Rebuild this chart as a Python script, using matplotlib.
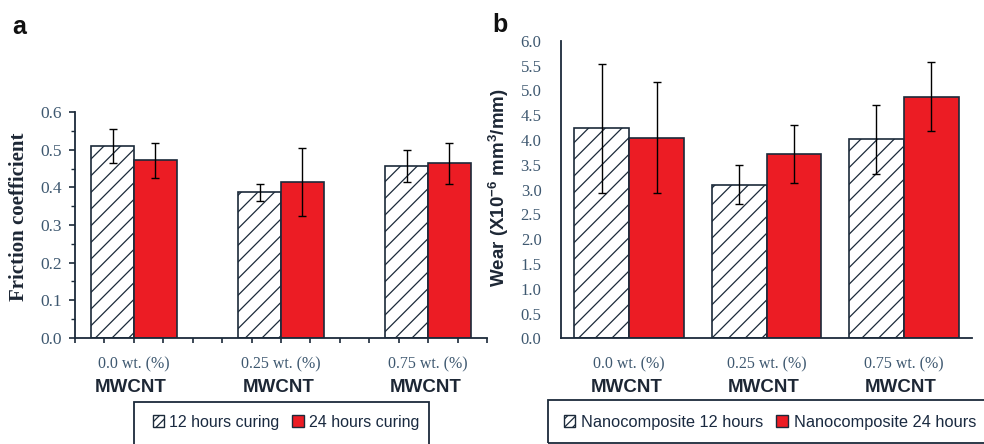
import matplotlib
matplotlib.use("Agg")
import matplotlib.pyplot as plt
from matplotlib import font_manager
from matplotlib.patches import Rectangle, Patch
from matplotlib.ticker import MultipleLocator
import numpy as np

# data
groups = ["0.0 wt. (%)", "0.25 wt. (%)", "0.75 wt. (%)"]
group_sub = "MWCNT"

fric_12h = [0.510, 0.387, 0.457]
fric_12h_err = [0.046, 0.022, 0.042]
fric_24h = [0.472, 0.415, 0.464]
fric_24h_err = [0.047, 0.091, 0.055]

wear_12h = [4.23, 3.10, 4.01]
wear_12h_err = [1.30, 0.40, 0.70]
wear_24h = [4.04, 3.72, 4.87]
wear_24h_err = [1.12, 0.58, 0.70]

left_legend = ["12 hours curing", "24 hours curing"]
right_legend = ["Nanocomposite 12 hours", "Nanocomposite 24 hours"]

# fonts
names = {f.name for f in font_manager.fontManager.ttflist}
narrow = "Liberation Sans Narrow" if "Liberation Sans Narrow" in names else "Liberation Sans"
serif = "Liberation Serif"

RED = "#ec1c24"
EDGE = "#1b2a3a"
TICKC = "#3e5870"
DARK = "#1d2735"

plt.rcParams["hatch.linewidth"] = 0.9
plt.rcParams["mathtext.fontset"] = "custom"
plt.rcParams["mathtext.rm"] = narrow
plt.rcParams["mathtext.bf"] = narrow + ":bold"

fig = plt.figure(figsize=(9.84, 4.44), dpi=100)
W, H = 984, 444


def px_axes(x0, x1, ytop, ybot):
    return fig.add_axes([x0 / W, 1 - ybot / H, (x1 - x0) / W, (ybot - ytop) / H])


def style_axes(ax, size):
    for s in ["top", "right"]:
        ax.spines[s].set_visible(False)
    for s in ["left", "bottom"]:
        ax.spines[s].set_color(EDGE)
        ax.spines[s].set_linewidth(1.3)
    for lab in ax.get_yticklabels():
        lab.set_fontfamily(serif)
        lab.set_fontsize(size)
        lab.set_color(TICKC)


def category_labels(ax, xs):
    for x, g in zip(xs, groups):
        ax.annotate(g, (x, 0), xycoords=("data", "axes fraction"),
                    xytext=(0, -19), textcoords="offset points",
                    ha="center", va="center", fontsize=11.5,
                    family=serif, color=TICKC)
        ax.annotate(group_sub, (x, 0), xycoords=("data", "axes fraction"),
                    xytext=(-2, -35.5), textcoords="offset points",
                    ha="center", va="center", fontsize=13.5,
                    family=narrow, weight="bold", color=DARK)


err_kw = dict(ecolor="black", elinewidth=1.0, capsize=3, capthick=1.0)

# ---------- panel a ----------
ax1 = px_axes(75, 487, 112.3, 337.7)
bnd1 = np.array([2, 7, 12])
w1 = 1.45
ax1.bar(bnd1, fric_12h, width=-w1, align="edge", color="white",
        edgecolor=EDGE, hatch="//", linewidth=1.2, zorder=2)
ax1.bar(bnd1, fric_24h, width=w1, align="edge", color=RED,
        edgecolor=EDGE, linewidth=1.2, zorder=2)
ax1.errorbar(bnd1 - w1 / 2, fric_12h, yerr=fric_12h_err, fmt="none", zorder=3, **err_kw)
ax1.errorbar(bnd1 + w1 / 2, fric_24h, yerr=fric_24h_err, fmt="none", zorder=3, **err_kw)
ax1.set_xlim(0, 14)
ax1.set_ylim(0, 0.6)
ax1.set_xticks(np.arange(0, 15))
ax1.set_xticklabels([])
ax1.yaxis.set_major_locator(MultipleLocator(0.1))
ax1.yaxis.set_minor_locator(MultipleLocator(0.05))
ax1.yaxis.set_major_formatter(plt.FormatStrFormatter("%.1f"))
ax1.tick_params(axis="x", direction="out", length=3.5, width=1.2, color=EDGE)
ax1.tick_params(axis="y", which="major", direction="out", length=4.5, width=1.2,
                color=EDGE, pad=5)
ax1.tick_params(axis="y", which="minor", direction="out", length=3, width=1.0, color=EDGE)
style_axes(ax1, 12.5)
ax1.set_ylabel("Friction coefficient", family=serif, weight="bold",
               fontsize=15, color=DARK)
ax1.yaxis.set_label_coords(-0.112, 0.535)
category_labels(ax1, bnd1)

# ---------- panel b ----------
ax2 = px_axes(561, 972, 40.7, 338.3)
bnd2 = np.array([0, 2.5, 5])
ax2.bar(bnd2, wear_12h, width=-1, align="edge", color="white",
        edgecolor=EDGE, hatch="//", linewidth=1.2, zorder=2)
ax2.bar(bnd2, wear_24h, width=1, align="edge", color=RED,
        edgecolor=EDGE, linewidth=1.2, zorder=2)
ax2.errorbar(bnd2 - 0.5, wear_12h, yerr=wear_12h_err, fmt="none", zorder=3, **err_kw)
ax2.errorbar(bnd2 + 0.5, wear_24h, yerr=wear_24h_err, fmt="none", zorder=3, **err_kw)
ax2.set_xlim(-1.24, 6.24)
ax2.set_ylim(0, 6)
ax2.set_xticks([])
ax2.yaxis.set_major_locator(MultipleLocator(0.5))
ax2.yaxis.set_major_formatter(plt.FormatStrFormatter("%.1f"))
ax2.tick_params(axis="y", length=0, pad=14)
style_axes(ax2, 12)
ax2.set_ylabel(r"Wear (X10$^{\mathbf{-6}}$ mm$^{\mathbf{3}}$/mm)", family=narrow,
               weight="bold", fontsize=13.5, color=DARK)
ax2.yaxis.set_label_coords(-0.122, 0.508)
category_labels(ax2, bnd2)

# panel letters
fig.text(19 / W, 1 - 27 / H, "a", fontsize=18, weight="bold", family="Liberation Sans",
         ha="center", va="center", color="#111111")
fig.text(500 / W, 1 - 25 / H, "b", fontsize=18, weight="bold", family="Liberation Sans",
         ha="center", va="center", color="#111111")

# legend boxes
fig.patches.append(Rectangle((134 / W, 1 - 446 / H), (429 - 134) / W, (446 - 402) / H,
                             transform=fig.transFigure, fill=False,
                             edgecolor=EDGE, linewidth=1.3))
fig.patches.append(Rectangle((548 / W, 1 - 443 / H), (990 - 548) / W, (443 - 400) / H,
                             transform=fig.transFigure, fill=False,
                             edgecolor=EDGE, linewidth=1.3))

hatch_h = Patch(facecolor="white", edgecolor=EDGE, hatch="////", linewidth=1.0)
red_h = Patch(facecolor=RED, edgecolor=EDGE, linewidth=1.0)
leg_kw = dict(ncol=2, frameon=False, handlelength=0.7, handleheight=0.7,
              handletextpad=0.35, columnspacing=0.8, borderpad=0,
              labelcolor="#1a2a40")
fig.legend([hatch_h, red_h], left_legend, loc="center",
           bbox_to_anchor=(286 / W, 1 - 422 / H),
           prop={"family": narrow, "size": 11.5}, **leg_kw)
fig.legend([hatch_h, red_h], right_legend, loc="center",
           bbox_to_anchor=(770 / W, 1 - 422 / H),
           prop={"family": narrow, "size": 11.8}, **leg_kw)

fig.savefig("out.png", dpi=100, facecolor="white")
